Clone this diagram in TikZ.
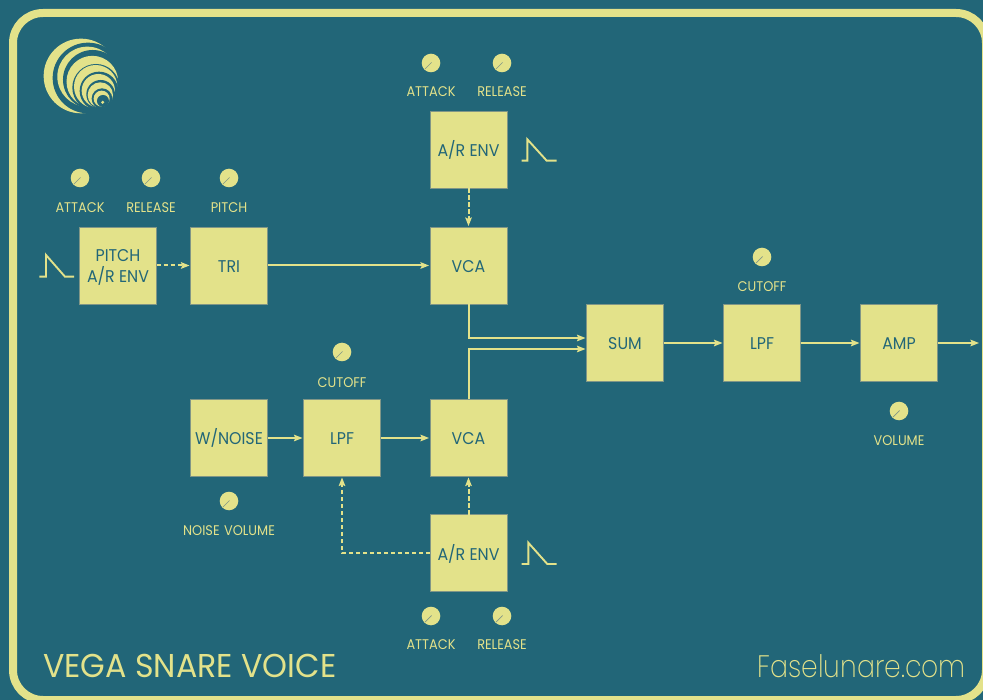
\documentclass[tikz,border=0pt]{standalone}
\usepackage{fontspec}
\setmainfont{Poppins}[FakeStretch=0.92,WordSpace=1.3]
\newfontfamily\blockfont{Poppins}[FakeStretch=0.93]
\newfontfamily\titlefont{Poppins}[FakeStretch=0.96]
\newfontfamily\thinfont{Poppins ExtraLight}[FakeStretch=0.86]
\usetikzlibrary{arrows.meta,calc}
\definecolor{bgteal}{RGB}{34,102,120}
\definecolor{sand}{RGB}{227,226,138}
\definecolor{edgegrey}{RGB}{128,150,135}
\tikzset{
  x=1pt,y=-1pt,
  block/.style={fill=sand,draw=edgegrey,line width=.6pt,minimum size=77pt,inner sep=0pt,outer sep=0pt,
    text=bgteal,align=center,font=\blockfont\fontsize{17}{20.7}\selectfont,text height=14pt,text depth=0pt},
  twoline/.style={text height=34.4pt,text depth=0pt},
  knobdisc/.style={circle,fill=sand,minimum size=18.6pt,inner sep=0pt,outer sep=0pt},
  tick/.style={draw=edgegrey,line width=.7pt},
  lab/.style={text=sand,inner sep=0pt,font=\fontsize{14}{16}\selectfont,text height=11pt,text depth=0pt},
  link/.style={draw=sand,line width=2pt,-{Stealth[length=8.5pt,width=6.5pt,inset=1.5pt]},shorten >=1pt},
  dashlink/.style={link,dash pattern=on 4.4pt off 2.6pt},
  envshape/.style={draw=sand,line width=1.9pt,fill=none,miter limit=8},
}
\newcommand{\knobat}[3]{%
  \node[knobdisc] (#1) at (#2,#3) {};
  \draw[tick] (#1.center) ++(-6,6) -- ++(6.5,-6.5);
}
\begin{document}
\begin{tikzpicture}
\useasboundingbox (0,0) rectangle (983,700);
\fill[bgteal] (0,0) rectangle (983,700);
\begin{scope}
\clip (0,0) rectangle (983,700);
\draw[sand,line width=8pt,rounded corners=30pt] (13,13) rectangle (986,700);
\end{scope}
% logo
\begin{scope}[x=0.3333pt,y=-0.3333pt]
\foreach \cx/\cy/\r/\tx/\ty/\tr in {
  243/228/112/264/234/106,
  262/230/90/278/239/89,
  277/245/77.5/288/263/71,
  287/260/65/297/273/58,
  295/272/50/302/283/43,
  301/285/38/306/296/31,
  305/296/24/309/303/18}{
  \fill[sand] (\cx,\cy) circle[radius=\r*1pt/3];
  \fill[bgteal] (\tx,\ty) circle[radius=\tr*1pt/3];
}
\fill[sand] (308,307) circle[radius=1.7pt];
\end{scope}
% blocks
\node[block,twoline] (penv) at (118,265.5) {PITCH\\A/R ENV};
\node[block] (tri) at (229,265.5) {TRI};
\node[block] (vcaa) at (468.5,265.5) {VCA};
\node[block] (enva) at (468.5,150) {A/R ENV};
\node[block] (sum) at (625,343) {SUM};
\node[block] (lpfb) at (762,343) {LPF};
\node[block] (amp) at (899,343) {AMP};
\node[block] (noise) at (229,438) {W/NOISE};
\node[block] (lpfa) at (342,438) {LPF};
\node[block] (vcab) at (468.5,438) {VCA};
\node[block] (envb) at (468.5,553) {A/R ENV};
\coordinate (out) at (980,343);
% connectors
\draw[dashlink] (penv.east) -- (tri.west);
\draw[link] (tri.east) -- (vcaa.west);
\draw[dashlink] (enva.south) -- (vcaa.north);
\draw[link] (vcaa.south) |- ([yshift=5pt]sum.west);
\draw[link] (vcab.north) |- ([yshift=-6pt]sum.west);
\draw[link] (sum.east) -- (lpfb.west);
\draw[link] (lpfb.east) -- (amp.west);
\draw[link] (amp.east) -- (out);
\draw[link] (noise.east) -- (lpfa.west);
\draw[link] (lpfa.east) -- (vcab.west);
\draw[dashlink] (envb.north) -- (vcab.south);
\draw[dashlink] (envb.west) -| (lpfa.south);
% knobs
\knobat{k1}{80}{178}
\knobat{k2}{151}{178}
\knobat{k3}{229}{178}
\knobat{k4}{431}{63}
\knobat{k5}{502}{63}
\knobat{k6}{762}{257}
\knobat{k7}{342}{352}
\knobat{k8}{229}{501}
\knobat{k9}{899}{411}
\knobat{k10}{431}{616}
\knobat{k11}{502}{616}
% labels
\node[lab] (l1) at (80,207) {ATTACK};
\node[lab] (l2) at (151,207) {RELEASE};
\node[lab] (l3) at (229,207) {PITCH};
\node[lab] (l4) at (431,91) {ATTACK};
\node[lab] (l5) at (502,91) {RELEASE};
\node[lab] (l6) at (762,286) {CUTOFF};
\node[lab] (l7) at (342,382) {CUTOFF};
\node[lab] (l8) at (229,530) {NOISE VOLUME};
\node[lab] (l9) at (899,440) {VOLUME};
\node[lab] (l10) at (431,644) {ATTACK};
\node[lab] (l11) at (502,644) {RELEASE};
% envelope glyphs
\draw[envshape] (39.3,276.7) -- (46,276.7) -- (46,255) -- (65,276.7) -- (74,276.7);
\draw[envshape] (521.7,160.7) -- (527.3,160.7) -- (527.3,139.3) -- (546.7,160.7) -- (556.7,160.7);
\draw[envshape] (521.7,564) -- (528.3,564) -- (528.3,542.7) -- (547.3,564) -- (556.7,564);
% title and site
\node[text=sand,inner sep=0pt,anchor=base west,font=\titlefont\fontsize{33}{36}\selectfont] (title) at (43,677) {VEGA SNARE VOICE};
\node[text=sand,inner sep=0pt,anchor=base east,font=\thinfont\fontsize{31}{36}\selectfont] (site) at (966,677) {Faselunare.com};
\end{tikzpicture}
\end{document}
